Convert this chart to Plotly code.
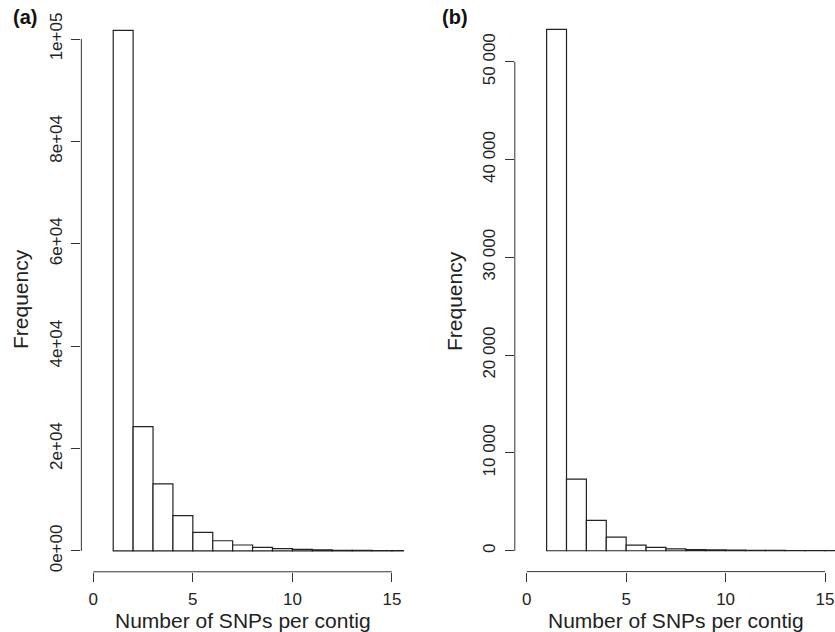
import plotly.graph_objects as go

# ---------------- data ----------------
bin_left_edges = list(range(1, 21))  # histogram bins [k, k+1)
counts_a = [101700, 24300, 13100, 6900, 3650, 2000, 1170, 720, 450, 300,
            200, 140, 100, 70, 50, 35, 25, 18, 12, 8]
counts_b = [53300, 7330, 3100, 1400, 580, 350, 200, 120, 80, 55,
            40, 28, 20, 14, 10, 7, 5, 4, 3, 2]

x_tick_vals = [0, 5, 10, 15]
x_tick_text = ["0", "5", "10", "15"]
y_tick_vals_a = [0, 20000, 40000, 60000, 80000, 100000]
y_tick_text_a = ["0e+00", "2e+04", "4e+04", "6e+04", "8e+04", "1e+05"]
y_tick_vals_b = [0, 10000, 20000, 30000, 40000, 50000]
y_tick_text_b = ["0", "10 000", "20 000", "30 000", "40 000", "50 000"]

x_title = "Number of SNPs per contig"
y_title = "Frequency"
panel_labels = ["(a)", "(b)"]

# ---------------- figure ----------------
W, H = 835, 632
FONT = "Liberation Sans, Arial, Helvetica, sans-serif"
INK = "#222222"
AX = "#333333"

centers = [e + 0.5 for e in bin_left_edges]

fig = go.Figure()
fig.add_trace(go.Bar(x=centers, y=counts_a, width=1, xaxis="x", yaxis="y",
                     marker=dict(color="white", line=dict(color=INK, width=1.2)),
                     showlegend=False, hoverinfo="skip"))
fig.add_trace(go.Bar(x=centers, y=counts_b, width=1, xaxis="x2", yaxis="y2",
                     marker=dict(color="white", line=dict(color=INK, width=1.2)),
                     showlegend=False, hoverinfo="skip"))

def px_x(p):
    return p / W

def px_y(p):
    return (H - p) / H

xa_dom = [px_x(81.35), px_x(403.9)]
ya_dom = [px_y(571.8), px_y(9.5)]
xb_dom = [px_x(514.8), 1.0]
yb_dom = [px_y(571.6), px_y(8.6)]

common_x = dict(showgrid=False, zeroline=False, showline=False,
                ticks="outside", ticklen=9, tickwidth=1, tickcolor=AX,
                tickvals=x_tick_vals, ticktext=x_tick_text,
                tickfont=dict(family=FONT, size=17, color=INK),
                ticklabelstandoff=3, fixedrange=True)
common_y = dict(showgrid=False, zeroline=False, showline=False,
                ticks="outside", ticklen=9, tickwidth=1, tickcolor=AX,
                tickangle=-90, tickfont=dict(family=FONT, size=17, color=INK),
                ticklabelstandoff=3, fixedrange=True)

fig.update_layout(
    width=W, height=H, autosize=False,
    margin=dict(l=0, r=0, t=0, b=0),
    paper_bgcolor="white", plot_bgcolor="white",
    bargap=0,
    xaxis=dict(domain=xa_dom, range=[-0.6, 15.6], anchor="y", **common_x),
    yaxis=dict(domain=ya_dom, range=[-4068, 105768], anchor="x",
               tickvals=y_tick_vals_a, ticktext=y_tick_text_a, **common_y),
    xaxis2=dict(domain=xb_dom, range=[-0.6, 15.5], anchor="y2", **common_x),
    yaxis2=dict(domain=yb_dom, range=[-2132, 55432], anchor="x2",
                tickvals=y_tick_vals_b, ticktext=y_tick_text_b, **common_y),
)

# axis lines spanning only the tick range (R style)
shapes = []
for xr, yr, xmax, ymax in [("x", "y", x_tick_vals[-1], y_tick_vals_a[-1]),
                           ("x2", "y2", x_tick_vals[-1], y_tick_vals_b[-1])]:
    shapes.append(dict(type="line", xref=xr, yref=f"{yr} domain",
                       x0=x_tick_vals[0], x1=xmax, y0=0, y1=0,
                       line=dict(color=AX, width=1)))
    shapes.append(dict(type="line", xref=f"{xr} domain", yref=yr,
                       x0=0, x1=0, y0=0, y1=ymax,
                       line=dict(color=AX, width=1)))
fig.update_layout(shapes=shapes)

annotations = []
# x titles
for xr in ["x", "x2"]:
    annotations.append(dict(text=x_title, xref=xr, yref="paper", x=7.5, y=px_y(620),
                            xanchor="center", yanchor="middle", showarrow=False,
                            font=dict(family=FONT, size=21, color=INK)))
# y titles
for xp, yp in [(20, 299), (454, 301)]:
    annotations.append(dict(text=y_title, xref="paper", yref="paper",
                            x=px_x(xp), y=px_y(yp), textangle=-90,
                            xanchor="center", yanchor="middle", showarrow=False,
                            font=dict(family=FONT, size=21, color=INK)))
# panel labels
for lbl, xp in zip(panel_labels, [25, 455]):
    annotations.append(dict(text=f"<b>{lbl}</b>", xref="paper", yref="paper",
                            x=px_x(xp), y=px_y(17), xanchor="center", yanchor="middle",
                            showarrow=False, font=dict(family=FONT, size=20, color="#111111")))
fig.update_layout(annotations=annotations)

fig.write_html("out.html", config={"displayModeBar": False, "staticPlot": True},
               post_script="document.body.style.margin='0';document.body.style.overflow='hidden';")
